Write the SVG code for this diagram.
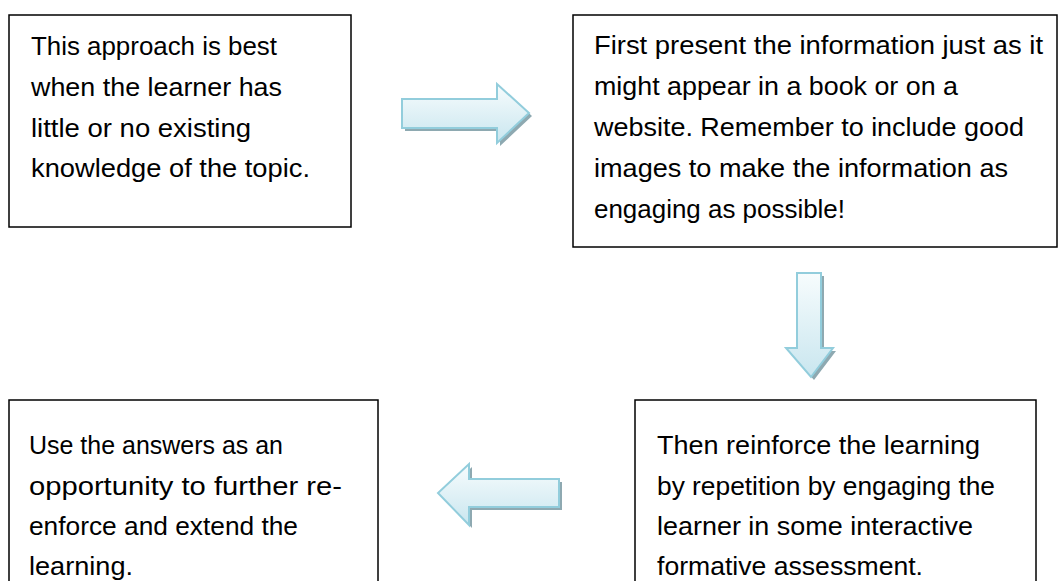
<svg xmlns="http://www.w3.org/2000/svg" width="1058" height="581" viewBox="0 0 1058 581">
<defs>
<linearGradient id="gv" x1="0" y1="0" x2="0" y2="1">
<stop offset="0" stop-color="#f7fcfd"/>
<stop offset="1" stop-color="#c9e6ef"/>
</linearGradient>
</defs>
<style>
.box{fill:#ffffff;stroke:#000000;stroke-width:1.5}
.t{font-family:"Liberation Sans",Arial,sans-serif;font-size:26px;fill:#000000}
.arr{fill:url(#gv);stroke:#92cddc;stroke-width:2;stroke-linejoin:miter}
.sh{fill:#8ea9b1}
</style>
<rect width="1058" height="581" fill="#ffffff"/>
<g id="node1">
<rect class="box" x="9" y="15" width="342" height="212"/>
<text class="t" x="31" y="55" textLength="246" lengthAdjust="spacingAndGlyphs">This approach is best</text>
<text class="t" x="31" y="96" textLength="251" lengthAdjust="spacingAndGlyphs">when the learner has</text>
<text class="t" x="31" y="137" textLength="220" lengthAdjust="spacingAndGlyphs">little or no existing</text>
<text class="t" x="31" y="177" textLength="279" lengthAdjust="spacingAndGlyphs">knowledge of the topic.</text>
</g>
<g id="node2">
<rect class="box" x="573" y="15" width="484" height="232"/>
<text class="t" x="594" y="54" textLength="449" lengthAdjust="spacingAndGlyphs">First present the information just as it</text>
<text class="t" x="594" y="95" textLength="364" lengthAdjust="spacingAndGlyphs">might appear in a book or on a</text>
<text class="t" x="594" y="136" textLength="430" lengthAdjust="spacingAndGlyphs">website. Remember to include good</text>
<text class="t" x="594" y="177" textLength="414" lengthAdjust="spacingAndGlyphs">images to make the information as</text>
<text class="t" x="594" y="218" textLength="251" lengthAdjust="spacingAndGlyphs">engaging as possible!</text>
</g>
<g id="node3">
<rect class="box" x="9" y="400" width="369" height="200"/>
<text class="t" x="29" y="454" textLength="254" lengthAdjust="spacingAndGlyphs">Use the answers as an</text>
<text class="t" x="29" y="495" textLength="313" lengthAdjust="spacingAndGlyphs">opportunity to further re-</text>
<text class="t" x="29" y="535" textLength="269" lengthAdjust="spacingAndGlyphs">enforce and extend the</text>
<text class="t" x="29" y="575" textLength="104" lengthAdjust="spacingAndGlyphs">learning.</text>
</g>
<g id="node4">
<rect class="box" x="635" y="400" width="401" height="200"/>
<text class="t" x="657" y="454" textLength="323" lengthAdjust="spacingAndGlyphs">Then reinforce the learning</text>
<text class="t" x="657" y="495" textLength="338" lengthAdjust="spacingAndGlyphs">by repetition by engaging the</text>
<text class="t" x="657" y="535" textLength="316" lengthAdjust="spacingAndGlyphs">learner in some interactive</text>
<text class="t" x="657" y="575" textLength="266" lengthAdjust="spacingAndGlyphs">formative assessment.</text>
</g>
<g id="connectors">
<path class="sh" d="M405,102 L500,102 L500,87 L532,116 L500,146 L500,131 L405,131 Z"/>
<path class="arr" d="M402,99 L497,99 L497,84 L529,113 L497,143 L497,128 L402,128 Z"/>
<path class="sh" d="M800,276 L824,276 L824,351 L836,351 L814,380 L789,351 L800,351 Z"/>
<path class="arr" d="M797,273 L821,273 L821,348 L833,348 L811,377 L786,348 L797,348 Z"/>
<path class="sh" d="M562,482 L562,510 L472,510 L472,528 L441,496 L472,467 L472,482 Z"/>
<path class="arr" d="M559,479 L559,507 L469,507 L469,525 L438,493 L469,464 L469,479 Z"/>
</g>
</svg>
